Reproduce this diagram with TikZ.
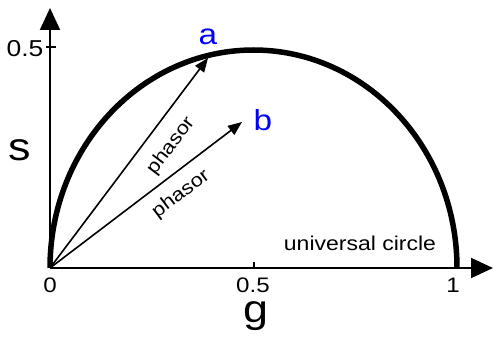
\documentclass[tikz,border=0pt]{standalone}
\usepackage{fontspec}
\setmainfont[FakeStretch=1.15]{Liberation Sans}
\usetikzlibrary{arrows.meta}
\tikzset{
  axis/.style={line width=2pt, -{Triangle[length=22pt,width=20pt]}},
  phasorarrow/.style={line width=1.6pt, -{Triangle[length=14pt,width=11pt]}},
  circ/.style={line width=5.5pt},
  ticklab/.style={font=\fontsize{21}{21}\selectfont, anchor=base, inner sep=0pt},
  big/.style={font=\fontsize{39}{39}\selectfont, anchor=base, inner sep=0pt},
  pointlab/.style={font=\fontsize{29}{29}\selectfont, anchor=base, inner sep=0pt, text=blue},
  phlab/.style={font=\fontsize{19}{19}\selectfont, inner sep=0pt},
}
\begin{document}
\begin{tikzpicture}[x=1pt,y=1pt]
\useasboundingbox (0,0) rectangle (493,341);
\coordinate (O) at (50,73);
\coordinate (Ytop) at (50,333);
\coordinate (Xend) at (493,73);
\coordinate (A) at (208,283);
\coordinate (B) at (242,219);
% axes
\draw[axis] (O) -- (Ytop);
\draw[axis] (O) -- (Xend);
% ticks
\coordinate (ty1) at (46,294);
\coordinate (ty2) at (56,294);
\draw[line width=1.5pt] (ty1) -- (ty2);
\coordinate (tx1) at (254,73);
\coordinate (tx2) at (254,79);
\draw[line width=1.5pt] (tx1) -- (tx2);
% universal circle
\draw[circ] (O) arc[start angle=180, end angle=0, x radius=203.5, y radius=218];
% phasors
\draw[phasorarrow] (O) -- (A);
\draw[phasorarrow] (O) -- (B);
% labels
\node[ticklab] (l0) at (50,49) {0};
\node[ticklab] (l05) at (253,49) {0.5};
\node[ticklab] (l1) at (453,49) {1};
\node[ticklab, font=\fontsize{23}{23}\selectfont] (ly05) at (25,284) {0.5};
\node[big] (s) at (20,181) {s};
\node[big] (g) at (256,19) {g};
\node[pointlab] (a) at (208,296) {a};
\node[pointlab] (b) at (263,211) {b};
\node[phlab, anchor=base, font=\fontsize{20}{20}\selectfont] (uc) at (360,91) {universal circle};
\node[phlab, rotate=53] (p1) at (171,195) {phasor};
\node[phlab, rotate=37] (p2) at (181,147) {phasor};
\end{tikzpicture}
\end{document}
